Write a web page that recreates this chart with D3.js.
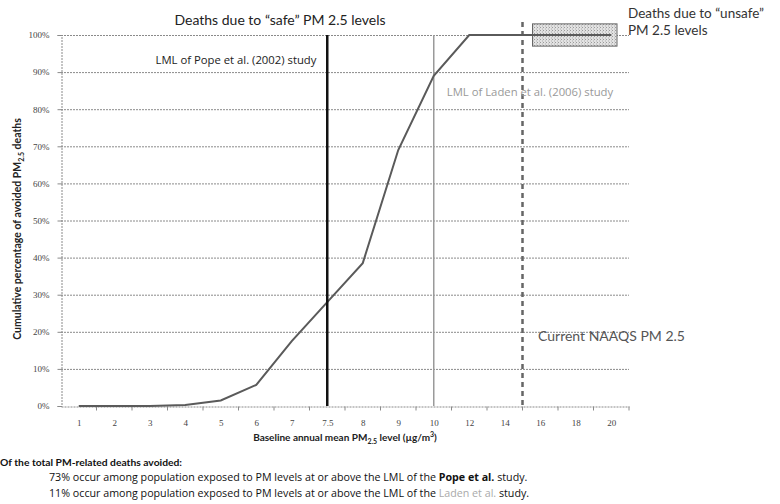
<!DOCTYPE html>
<html>
<head>
<meta charset="utf-8">
<script src="https://cdn.jsdelivr.net/npm/d3@7"></script>
<style>
  html, body { margin: 0; padding: 0; background: #fff; }
  svg { display: block; font-family: Lato, "Open Sans", sans-serif; }
</style>
</head>
<body>
<svg id="chart" width="780" height="504"></svg>
<script>
// Baseline PM2.5 levels (categorical axis) and cumulative share of avoided deaths
const levels = ["1", "2", "3", "4", "5", "6", "7", "7.5", "8", "9", "10", "12", "14", "16", "18", "20"];
const cumulativePct = [0, 0, 0, 0.3, 1.5, 5.7, 17.5, 28, 38.5, 69, 89, 100, 100, 100, 100, 100];
const yTicks = [0, 10, 20, 30, 40, 50, 60, 70, 80, 90, 100];

// Reference markers
const popeLevel = "7.5";
const ladenLevel = "10";
const naaqsBetween = ["14", "16"];   // current standard (15) sits between these categories
const unsafeBand = [97, 103];        // shaded "unsafe" box, in percent

const svg = d3.select("#chart");
const plotLeft = 61, plotRight = 629, plotTop = 35, plotBottom = 406;

const x = d3.scalePoint().domain(levels).range([plotLeft, plotRight]).padding(0.5);
const y = d3.scaleLinear().domain([0, 100]).range([plotBottom, plotTop]);
const step = x.step();

// dotted pattern for the "unsafe" box
const defs = svg.append("defs");
const pat = defs.append("pattern").attr("id", "dots").attr("width", 3).attr("height", 3)
  .attr("patternUnits", "userSpaceOnUse");
pat.append("rect").attr("width", 3).attr("height", 3).attr("fill", "#e2e2e2");
pat.append("rect").attr("x", 0).attr("y", 0).attr("width", 1).attr("height", 1).attr("fill", "#9a9a9a");
pat.append("rect").attr("x", 2).attr("y", 1.5).attr("width", 1).attr("height", 1).attr("fill", "#b0b0b0");

// horizontal gridlines
svg.append("g").selectAll("line").data(yTicks.filter(d => d > 0)).join("line")
  .attr("x1", plotLeft).attr("x2", plotRight)
  .attr("y1", d => y(d) + 0.5).attr("y2", d => y(d) + 0.5)
  .attr("stroke", "#8a8a8a").attr("stroke-width", 1).attr("stroke-dasharray", "2,1");

// y axis
const yAxis = d3.axisLeft(y).tickValues(yTicks).tickFormat(d => d + "%").tickSize(4).tickPadding(8);
const gy = svg.append("g").attr("transform", `translate(${plotLeft + 0.5},0)`).call(yAxis);
gy.select(".domain").attr("stroke", "#8a8a8a").attr("stroke-dasharray", "2,1");
gy.selectAll(".tick line").attr("stroke", "#8a8a8a");
gy.selectAll("text").attr("font-family", "'Liberation Serif', serif").attr("font-size", 9).attr("fill", "#444");

// x axis: labels at category centres, tick marks between categories
const xAxis = d3.axisBottom(x).tickSize(0).tickPadding(13);
const gx = svg.append("g").attr("transform", `translate(0,${plotBottom + 0.5})`).call(xAxis);
gx.select(".domain").attr("stroke", "#8a8a8a").attr("stroke-dasharray", "2,1");
gx.selectAll("text").attr("font-family", "'Liberation Serif', serif").attr("font-size", 9).attr("fill", "#444");
gx.selectAll(".sep").data(levels.slice(1)).join("line").attr("class", "sep")
  .attr("x1", d => x(d) - step / 2).attr("x2", d => x(d) - step / 2)
  .attr("y1", 0).attr("y2", 4).attr("stroke", "#8a8a8a");
gx.append("line").attr("x1", plotRight).attr("x2", plotRight).attr("y1", 0).attr("y2", 4).attr("stroke", "#8a8a8a");

// reference lines
svg.append("line").attr("x1", x(ladenLevel)).attr("x2", x(ladenLevel))
  .attr("y1", y(100)).attr("y2", y(0)).attr("stroke", "#9a9a9a").attr("stroke-width", 1.5);
const naaqsX = (x(naaqsBetween[0]) + x(naaqsBetween[1])) / 2;
svg.append("line").attr("x1", naaqsX).attr("x2", naaqsX)
  .attr("y1", y(103.5)).attr("y2", y(0)).attr("stroke", "#666").attr("stroke-width", 2.5)
  .attr("stroke-dasharray", "5,4");

// "unsafe" box
svg.append("rect").attr("x", naaqsX + 10).attr("y", y(unsafeBand[1]))
  .attr("width", plotRight - 12 - (naaqsX + 10)).attr("height", y(unsafeBand[0]) - y(unsafeBand[1]))
  .attr("fill", "url(#dots)").attr("stroke", "#666").attr("stroke-width", 1);

// cumulative curve
const line = d3.line().x((d, i) => x(levels[i])).y(d => y(d));
svg.append("path").datum(cumulativePct).attr("d", line)
  .attr("fill", "none").attr("stroke", "#5a5a5a").attr("stroke-width", 2);

// Pope LML line
svg.append("line").attr("x1", x(popeLevel)).attr("x2", x(popeLevel))
  .attr("y1", y(100)).attr("y2", y(0)).attr("stroke", "#111").attr("stroke-width", 2.5);

// annotations
svg.append("text").attr("x", 280).attr("y", 25).attr("text-anchor", "middle")
  .attr("font-size", 14).attr("fill", "#222").text("Deaths due to \u201Csafe\u201D PM 2.5 levels");
svg.append("text").attr("x", 628).attr("y", 18).attr("font-size", 13.5).attr("fill", "#333")
  .text("Deaths due to \u201Cunsafe\u201D");
svg.append("text").attr("x", 628).attr("y", 35).attr("font-size", 13.5).attr("fill", "#333")
  .text("PM 2.5 levels");
svg.append("text").attr("x", 236).attr("y", 64).attr("text-anchor", "middle")
  .attr("font-family", "'Open Sans', sans-serif")
  .attr("font-size", 11.3).attr("fill", "#222").text("LML of Pope et al. (2002) study");
svg.append("text").attr("x", 530).attr("y", 96).attr("text-anchor", "middle")
  .attr("font-family", "'Open Sans', sans-serif")
  .attr("font-size", 11.3).attr("fill", "#999").text("LML of Laden et al. (2006) study");
svg.append("text").attr("x", 538).attr("y", 341)
  .attr("font-size", 14).attr("fill", "#555").text("Current NAAQS PM 2.5");

// axis titles
const yt = svg.append("text").attr("transform", `translate(21,${229}) rotate(-90)`)
  .attr("text-anchor", "middle").attr("font-size", 10.5).attr("font-weight", "bold").attr("fill", "#222");
yt.append("tspan").text("Cumulative percentage of avoided PM");
yt.append("tspan").attr("font-size", 7).attr("dy", 3).text("2.5");
yt.append("tspan").attr("dy", -3).text(" deaths");

const xt = svg.append("text").attr("x", 345).attr("y", 441)
  .attr("text-anchor", "middle").attr("font-size", 10).attr("font-weight", "bold").attr("fill", "#222");
xt.append("tspan").text("Baseline annual mean PM");
xt.append("tspan").attr("font-size", 7).attr("dy", 3).text("2.5");
xt.append("tspan").attr("dy", -3).text(" level (\u00B5g/m");
xt.append("tspan").attr("font-size", 7).attr("dy", -4).text("3");
xt.append("tspan").attr("dy", 4).text(")");

// summary notes
svg.append("text").attr("x", 0).attr("y", 466).attr("font-size", 10.3).attr("font-weight", "bold")
  .attr("fill", "#111").text("Of the total PM-related deaths avoided:");
const n1 = svg.append("text").attr("x", 49).attr("y", 481).attr("font-size", 10.7)
  .attr("font-family", "'Open Sans', sans-serif").attr("fill", "#111");
n1.append("tspan").text("73% occur among population exposed to PM levels at or above the LML of the ");
n1.append("tspan").attr("font-weight", "bold").text("Pope et al.");
n1.append("tspan").text(" study.");
const n2 = svg.append("text").attr("x", 49).attr("y", 497).attr("font-size", 10.7)
  .attr("font-family", "'Open Sans', sans-serif").attr("fill", "#111");
n2.append("tspan").text("11% occur among population exposed to PM levels at or above the LML of the ");
n2.append("tspan").attr("fill", "#aaa").text("Laden et al.");
n2.append("tspan").text(" study.");
</script>
</body>
</html>
